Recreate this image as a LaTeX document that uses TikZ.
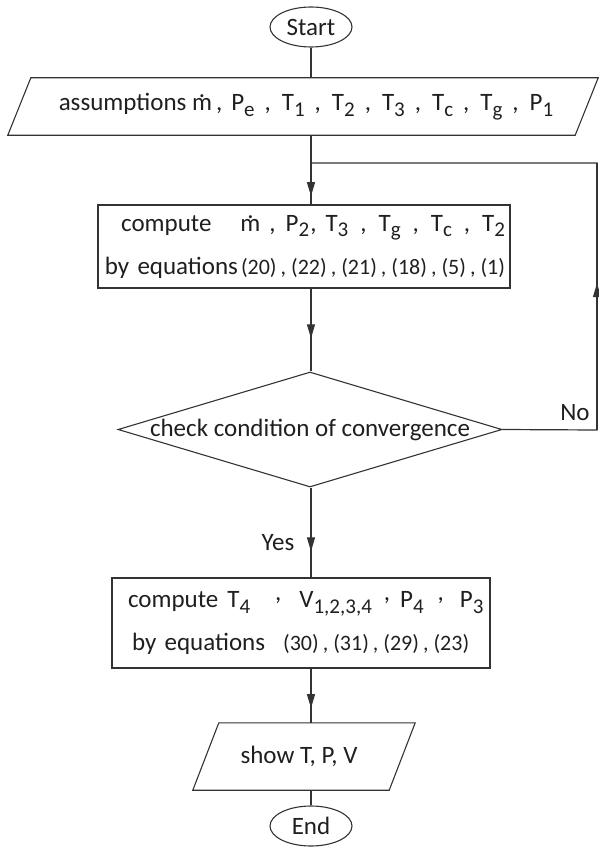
\documentclass[tikz,border=0pt]{standalone}
\usepackage{fontspec}
\setmainfont{Carlito}
\usetikzlibrary{shapes.geometric,arrows.meta,decorations.markings}
\newcommand\mdot{\leavevmode\setbox0\hbox{m}\hbox{\rlap{m}\hbox to\wd0{\hss\raisebox{0.52em}{.}\hss}}}
\newcommand\sub[1]{\raisebox{-0.22em}{\fontsize{21}{21}\selectfont #1}}
\newcommand\rc{\raisebox{0.3em}{,}}
\newcommand\sep{\hspace{10pt},\hspace{11pt}}
\newcommand\sepb{\hspace{12pt},\hspace{12pt}}
\newcommand\cs{\hspace{4pt},\hspace{5pt}}
\newcommand\nums{\fontsize{22}{22}\selectfont}
\begin{document}
\begin{tikzpicture}[x=1pt,y=-1pt,
  every node/.style={font=\fontsize{25}{43}\selectfont, text=black!88},
  term/.style={ellipse, draw=black!80, line width=1.1pt, minimum width=82pt, minimum height=40pt, inner sep=0pt},
  iobox/.style={rectangle, draw=none, inner sep=0pt},
  shapeline/.style={draw=black!80, line width=1.1pt},
  proc/.style={rectangle, draw=black!80, line width=1.1pt, inner sep=0pt},
  decision/.style={diamond, draw=black!80, line width=1.1pt, inner sep=0pt},
  conn/.style={draw=black!80, line width=1.2pt},
  midarrow/.style={postaction={decorate,decoration={markings,mark=at position #1 with {\arrow{Triangle[length=14pt,width=8pt]}}}}}
]
\useasboundingbox (0,0) rectangle (598,848);

\node[term] (start) at (311,27) {Start};

\node[iobox, minimum width=590pt, minimum height=57pt] (inp) at (303,106.5)
  {\makebox[0pt]{\raisebox{-3pt}{\hspace{6pt}assumptions \mdot\hspace{4pt},\hspace{9pt}P\sub{e}\sep T\sub{1}\sep T\sub{2}\sep T\sub{3}\sep T\sub{c}\sep T\sub{g}\sep P\sub{1}}}};
\draw[shapeline] (inp.south west) -- ([xshift=23pt]inp.north west) -- (inp.north east) -- ([xshift=-23pt]inp.south east) -- cycle;

\node[proc, text width=402pt, inner xsep=5pt, minimum height=83pt, align=right] (box1) at (304,246.5)
  {\makebox[\linewidth][r]{compute\hspace{29pt}\mdot\hspace{9pt},\hspace{10pt}P\sub{2}\hspace{1pt},\hspace{9pt}T\sub{3}\sepb T\sub{g}\sepb T\sub{c}\sepb T\sub{2}}\\
   \makebox[\linewidth][r]{by equations\hspace{3pt}{\nums (20)\cs(22)\cs(21)\cs(18)\cs(5)\cs(1)}}};

\node[decision, minimum width=384pt, minimum height=115pt] (dia) at (310,429.5)
  {\makebox[0pt]{check condition of convergence}};

\node[proc, text width=362pt, inner xsep=8pt, minimum height=90pt, align=left] (box2) at (301,623)
  {\makebox[\linewidth][l]{\hspace{8pt}compute\hspace{9pt}T\sub{4}\hspace{25pt}\rc\hspace{18pt}V\sub{1,2,3,4}\hspace{12pt}\rc\hspace{10pt}P\sub{4}\hspace{14pt}\rc\hspace{16pt}P\sub{3}}\\
   \makebox[\linewidth][l]{\hspace{12pt}by equations\hspace{18pt}{\nums (30)\cs(31)\cs(29)\cs(23)}}};

\node[iobox, minimum width=222pt, minimum height=67pt] (show) at (304,756.5)
  {\makebox[0pt]{\hspace{-10pt}show T, P, V}};
\draw[shapeline] (show.south west) -- ([xshift=26pt]show.north west) -- (show.north east) -- ([xshift=-26pt]show.south east) -- cycle;

\node[term] (end) at (311,826) {End};

\node (no) at (575,413) {No};
\node (yes) at (278,543) {Yes};

\coordinate (c1) at (597,430);
\coordinate (c2) at (597,163);
\coordinate (j) at (311,163);

\draw[conn] (start.south) -- (inp.north -| start);
\draw[conn, midarrow=0.88] (inp.south -| start) -- (box1.north -| start);
\draw[conn, midarrow=0.6] (box1.south -| start) -- (dia.north -| start);
\draw[conn, midarrow=0.71] (dia.south -| start) -- (box2.north -| start);
\draw[conn, midarrow=0.73] (box2.south -| start) -- (show.north -| start);
\draw[conn] (show.south -| start) -- (end.north);
\draw[conn] (dia.east) -- (c1) -- (c2) -- (j);
\draw[conn, midarrow=0.55] (c1) -- (c2);
\end{tikzpicture}
\end{document}
